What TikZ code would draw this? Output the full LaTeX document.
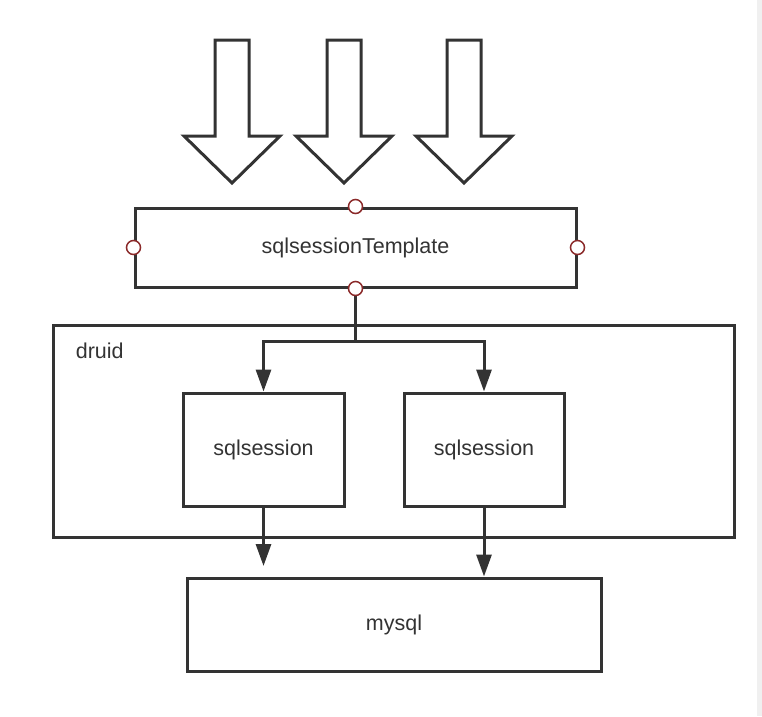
\documentclass[tikz,border=0pt]{standalone}
\usepackage{fontspec}
\setsansfont{Liberation Sans}
\usetikzlibrary{arrows.meta}
\usetikzlibrary{positioning}
\definecolor{ink}{HTML}{333333}
\definecolor{portred}{HTML}{8B2A2A}
\definecolor{sidegray}{HTML}{F0F0F0}

\begin{document}
\begin{tikzpicture}[x=1pt,y=-1pt,
            line width=3pt,
            every node/.style = {font=\sffamily\fontsize{21.5}{25}\selectfont,text=ink},
            box/.style = {draw=ink,fill=white,inner sep=0pt},
            port/.style = {circle,draw=portred,fill=white,line width=1.5pt,
                minimum size=14pt,inner sep=0pt},
            flow/.style = {draw=ink,-{Triangle[length=22pt,width=15pt]}},
            bigarrow/.style = {draw=ink,fill=white,line join=miter}]
            \useasboundingbox (0,0) rectangle (762,716);
            \fill[sidegray] (757,0) rectangle (762,716);
            % incoming arrows
            \foreach \cx in {232,344,464}
                \draw[bigarrow] (\cx-17,40) -- (\cx+17,40) -- (\cx+17,136) -- (\cx+48,136)
                    -- (\cx,183) -- (\cx-48,136) -- (\cx-17,136) -- cycle;
            \node[box,minimum width=441pt,minimum height=79pt](tpl) at (355.5,247.5) {sqlsessionTemplate};
            \node[draw=ink,minimum width=681pt,minimum height=212pt](druid) at (393.5,431) {};
            \node[anchor=west](druidlabel) at (71,351) {druid};
            \node[box,minimum width=161pt,minimum height=113pt](s1) at (263.5,449.5) {sqlsession};
            \node[box,minimum width=160pt,minimum height=113pt](s2) at (484,449.5) {sqlsession};
            \node[box,minimum width=414pt,minimum height=93pt](db) at (394,624.5) {mysql};
            \coordinate (fork) at (355.5,341);
            \coordinate (s1end) at (263.5,566);
            \draw[ink] (tpl.south) -- (fork);
            \draw[flow] (fork) -| (s1.north);
            \draw[flow] (fork) -| (s2.north);
            \draw[flow] (s1.south) -- (s1end);
            \draw[flow] (s2.south) -- (s2.south |- db.north);
            \foreach \a in {north,south,east,west}
                \node[port] at (tpl.\a) {};
        \end{tikzpicture}
\end{document}
